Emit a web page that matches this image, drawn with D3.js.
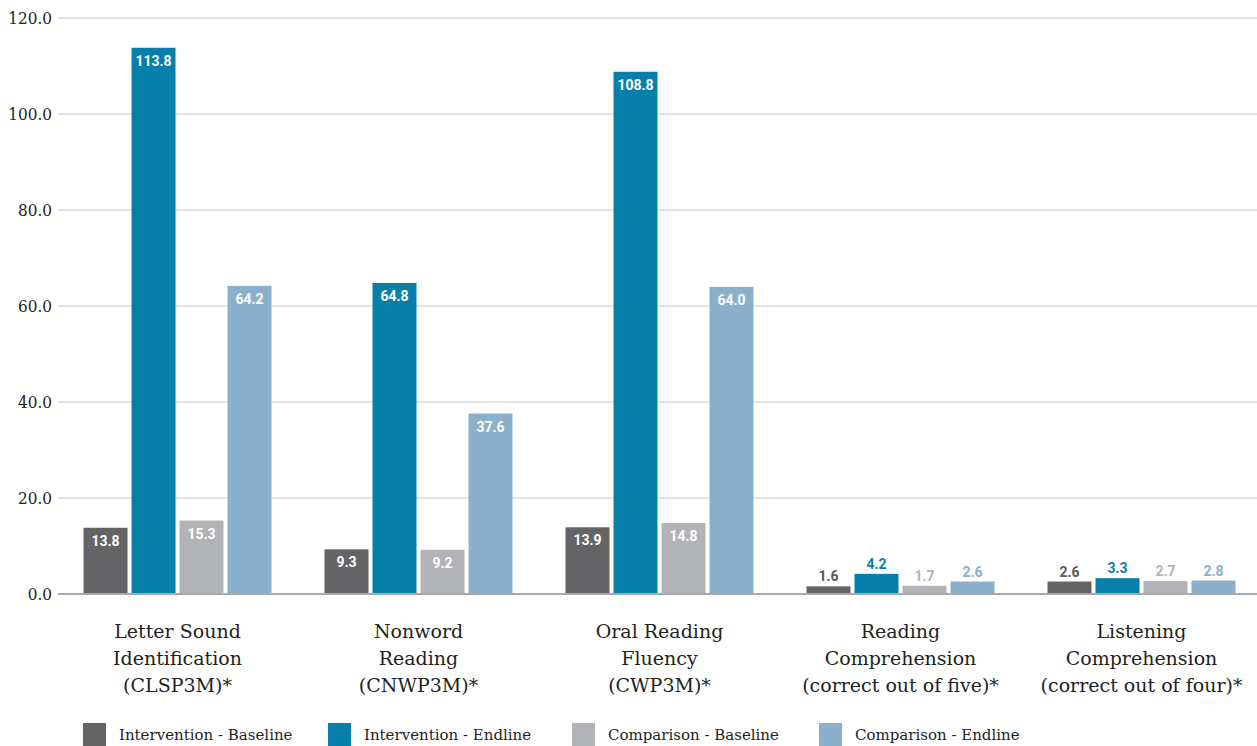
<!DOCTYPE html>
<html>
<head>
<meta charset="utf-8">
<script src="https://cdn.jsdelivr.net/npm/d3@7"></script>
<style>
  html, body { margin: 0; padding: 0; background: #fff; }
  svg { display: block; }
  .slab { font-family: "DejaVu Serif", serif; }
  .slab-narrow { font-family: "DejaVu Serif Condensed", "DejaVu Serif", serif; }
</style>
</head>
<body>
<svg id="chart" width="1257" height="746"></svg>
<script>
// Assessment categories (multi-line labels)
const categories = [
  ["Letter Sound", "Identification", "(CLSP3M)*"],
  ["Nonword", "Reading", "(CNWP3M)*"],
  ["Oral Reading", "Fluency", "(CWP3M)*"],
  ["Reading", "Comprehension", "(correct out of five)*"],
  ["Listening", "Comprehension", "(correct out of four)*"]
];
const seriesNames = [
  "Intervention - Baseline",
  "Intervention - Endline",
  "Comparison - Baseline",
  "Comparison - Endline"
];
const interventionBaseline = [13.8, 9.3, 13.9, 1.6, 2.6];
const interventionEndline  = [113.8, 64.8, 108.8, 4.2, 3.3];
const comparisonBaseline   = [15.3, 9.2, 14.8, 1.7, 2.7];
const comparisonEndline    = [64.2, 37.6, 64.0, 2.6, 2.8];
const yTicks = [0, 20, 40, 60, 80, 100, 120];

const seriesValues = [interventionBaseline, interventionEndline, comparisonBaseline, comparisonEndline];
const colors = ["#646466", "#077fab", "#b2b3b6", "#8ab0cb"];
const labelOutsideColors = ["#58595b", "#0a7fab", "#b2b3b6", "#8ab0cb"];

const svg = d3.select("#chart");
const plotLeft = 58, plotRight = 1257;
const y = d3.scaleLinear().domain([0, 120]).range([594, 18]);

const x0 = d3.scaleBand()
  .domain(d3.range(categories.length))
  .range([57, 1262])
  .paddingInner(0.22)
  .paddingOuter(0.11);
const x1 = d3.scaleBand()
  .domain(d3.range(seriesNames.length))
  .range([0, x0.bandwidth()])
  .paddingInner(4 / 48)
  .paddingOuter(0);

// Gridlines and y tick labels
const yAxis = d3.axisLeft(y).tickValues(yTicks).tickFormat(d3.format(".1f")).tickSize(0);
const gy = svg.append("g").attr("transform", `translate(${plotLeft},0)`).call(yAxis);
gy.select(".domain").remove();
gy.selectAll("text")
  .attr("class", "slab-narrow")
  .attr("x", -6)
  .attr("dy", "0.35em")
  .attr("fill", "#231f20")
  .style("font-size", "17px");

svg.append("g").selectAll("line")
  .data(yTicks.filter(d => d > 0))
  .join("line")
  .attr("x1", plotLeft).attr("x2", plotRight)
  .attr("y1", d => y(d)).attr("y2", d => y(d))
  .attr("stroke", "#d9d9db").attr("stroke-width", 1.5);

// Bars
const groups = svg.append("g").selectAll("g")
  .data(categories.map((c, i) => i))
  .join("g")
  .attr("transform", i => `translate(${x0(i)},0)`);

groups.selectAll("rect")
  .data(i => seriesValues.map((vals, s) => ({ s, v: vals[i] })))
  .join("rect")
  .attr("x", d => x1(d.s))
  .attr("width", x1.bandwidth())
  .attr("y", d => y(d.v))
  .attr("height", d => y(0) - y(d.v))
  .attr("fill", d => colors[d.s]);

// Value labels: inside the bar when tall enough, otherwise above it
groups.selectAll("text")
  .data(i => seriesValues.map((vals, s) => ({ s, v: vals[i] })))
  .join("text")
  .attr("x", d => x1(d.s) + x1.bandwidth() / 2)
  .attr("y", d => d.v > 6 ? y(d.v) + 18 : y(d.v) - 5)
  .attr("text-anchor", "middle")
  .attr("font-family", "Roboto, sans-serif")
  .attr("font-weight", "bold")
  .attr("font-size", 14)
  .attr("fill", d => d.v > 6 ? "#ffffff" : labelOutsideColors[d.s])
  .text(d => d3.format(".1f")(d.v));

// Baseline axis
svg.append("line")
  .attr("x1", plotLeft).attr("x2", plotRight)
  .attr("y1", y(0)).attr("y2", y(0))
  .attr("stroke", "#a7a9ac").attr("stroke-width", 2);

// Category labels
const catG = svg.append("g").selectAll("text")
  .data(categories)
  .join("text")
  .attr("class", "slab")
  .attr("text-anchor", "middle")
  .attr("fill", "#231f20")
  .style("font-size", "19px")
  .attr("transform", (d, i) => `translate(${x0(i) + x0.bandwidth() / 2},638)`);
catG.selectAll("tspan")
  .data(d => d)
  .join("tspan")
  .attr("x", 0)
  .attr("y", (d, j) => j * 27)
  .text(d => d);

// Legend
const legendX = [83, 328, 572, 819];
const legend = svg.append("g").selectAll("g")
  .data(seriesNames)
  .join("g")
  .attr("transform", (d, i) => `translate(${legendX[i]},723)`);
legend.append("rect")
  .attr("width", 23).attr("height", 23)
  .attr("fill", (d, i) => colors[i]);
legend.append("text")
  .attr("class", "slab")
  .attr("x", 36).attr("y", 12)
  .attr("dy", "0.35em")
  .attr("fill", "#231f20")
  .style("font-size", "15px")
  .text(d => d);
</script>
</body>
</html>
